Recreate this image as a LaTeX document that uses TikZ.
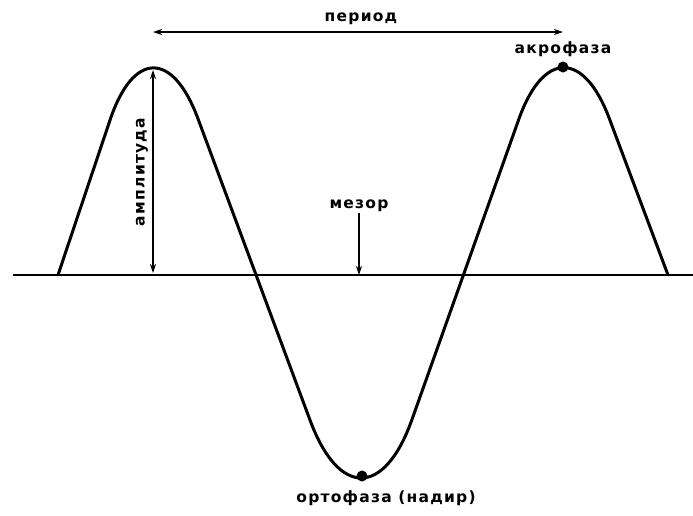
\documentclass[tikz,border=0pt]{standalone}
\usepackage{fontspec}
\newfontfamily\lblfont[LetterSpace=8]{DejaVu Sans Bold}
\usepackage{tikz}
\usetikzlibrary{arrows.meta,positioning,calc}

\begin{document}
\begin{tikzpicture}[
    x=1pt, y=-1pt,
    font=\lblfont\fontsize{15.5}{18}\selectfont,
    wave/.style={line width=3pt, line join=round, line cap=round},
    axis/.style={line width=1.8pt},
    dim/.style={{Stealth[length=9pt,width=6pt]}-{Stealth[length=9pt,width=6pt]}, line width=1.5pt},
    pointer/.style={-{Stealth[length=9pt,width=6pt]}, line width=1.5pt},
    phase dot/.style={circle, fill=black, inner sep=0pt, minimum size=11pt},
    lbl/.style={inner sep=1pt}
]
    \useasboundingbox (0,0) rectangle (693,515);

    % baseline (mesor level)
    \coordinate (baseW) at (13,275);
    \coordinate (baseE) at (693,275);
    \draw[axis] (baseW) -- (baseE);

    % the rhythm curve: straight flanks, rounded tops
    \coordinate (w0) at (58,275);
    \coordinate (w1) at (152,-5);
    \coordinate (w2) at (362,560);
    \coordinate (w3) at (563,-5);
    \coordinate (w4) at (668,275);
    \draw[wave] (w0) [rounded corners=132pt] -- (w1)
        [rounded corners=149pt] -- (w2)
        [rounded corners=132pt] -- (w3) -- (w4);

    \node[phase dot] (acro) at (563,67) {};
    \node[phase dot] (nadir) at (362,476) {};

    % period
    \coordinate (perL) at (153,32);
    \coordinate (perR) at (563,32);
    \draw[dim] (perL) -- (perR);
    \node[lbl] (period) at (361,19) {период};

    % amplitude
    \coordinate (ampTop) at (153,70);
    \coordinate (ampBot) at (153,273);
    \draw[dim] (ampTop) -- (ampBot);
    \node[lbl, rotate=90] (amp) at (142,172) {амплитуда};

    % mesor
    \node[lbl] (mesor) at (359,206) {мезор};
    \draw[pointer] (mesor.south) -- (mesor.south |- baseW);

    % phases
    \node[lbl, above=3pt of acro] (acrolbl) {акрофаза};
    \node[lbl] (ortho) at (386,498) {ортофаза (надир)};
\end{tikzpicture}
\end{document}
